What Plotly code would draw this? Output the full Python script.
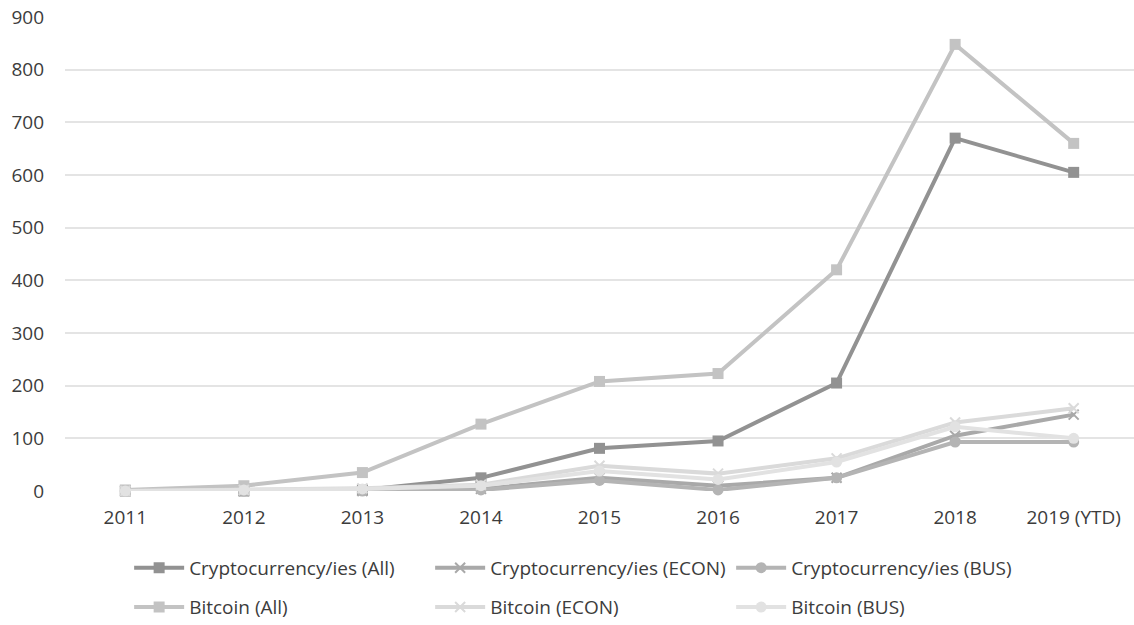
import plotly.graph_objects as go

years = ["2011", "2012", "2013", "2014", "2015", "2016", "2017", "2018", "2019 (YTD)"]
crypto_all = [0, 0, 2, 25, 81, 95, 205, 670, 605]
crypto_econ = [0, 0, 0, 4, 25, 10, 25, 105, 145]
crypto_bus = [0, 0, 0, 2, 20, 2, 25, 93, 93]
bitcoin_all = [2, 10, 35, 127, 208, 223, 420, 848, 660]
bitcoin_econ = [0, 2, 5, 12, 48, 33, 62, 130, 157]
bitcoin_bus = [0, 2, 4, 10, 38, 22, 55, 122, 100]

series = [
    ("Cryptocurrency/ies (All)", crypto_all, "#929292", "square", "legend"),
    ("Cryptocurrency/ies (ECON)", crypto_econ, "#a9a9a9", "x-thin", "legend"),
    ("Cryptocurrency/ies (BUS)", crypto_bus, "#b4b4b4", "circle", "legend"),
    ("Bitcoin (All)", bitcoin_all, "#c3c3c3", "square", "legend2"),
    ("Bitcoin (ECON)", bitcoin_econ, "#dadada", "x-thin", "legend2"),
    ("Bitcoin (BUS)", bitcoin_bus, "#e2e2e2", "circle", "legend2"),
]

fig = go.Figure()
for name, vals, color, sym, lg in series:
    mk = dict(symbol=sym, size=11, color=color)
    if sym == "x-thin":
        mk = dict(symbol=sym, size=10, color=color, line=dict(color=color, width=2))
    fig.add_trace(go.Scatter(
        x=years, y=vals, name=name, mode="lines+markers", legend=lg,
        line=dict(color=color, width=4), marker=mk, cliponaxis=False,
    ))

font_family = "Open Sans, sans-serif"
legend_common = dict(orientation="h", x=0.06, xanchor="left", yanchor="top",
                     entrywidth=236, entrywidthmode="pixels", itemwidth=50,
                     font=dict(family=font_family, size=19, color="#3c3c3c"),
                     bgcolor="rgba(0,0,0,0)")

fig.update_layout(
    width=1134, height=625,
    margin=dict(l=65, r=0, t=17, b=134, autoexpand=False),
    paper_bgcolor="white", plot_bgcolor="white",
    font=dict(family=font_family, size=19, color="#3c3c3c"),
    xaxis=dict(type="category", showgrid=False, showline=False, ticks="",
               tickfont=dict(size=19, color="#3c3c3c"), ticklabelstandoff=13),
    yaxis=dict(range=[0, 900], dtick=100, showgrid=True, gridcolor="#e4e4e4",
               gridwidth=1.5, zeroline=False, showline=False,
               tickfont=dict(size=19, color="#3c3c3c"), ticklabelstandoff=20),
    legend=dict(y=-0.122, **legend_common),
    legend2=dict(y=-0.205, **legend_common),
    showlegend=True,
)

fig.write_html("out.html")
